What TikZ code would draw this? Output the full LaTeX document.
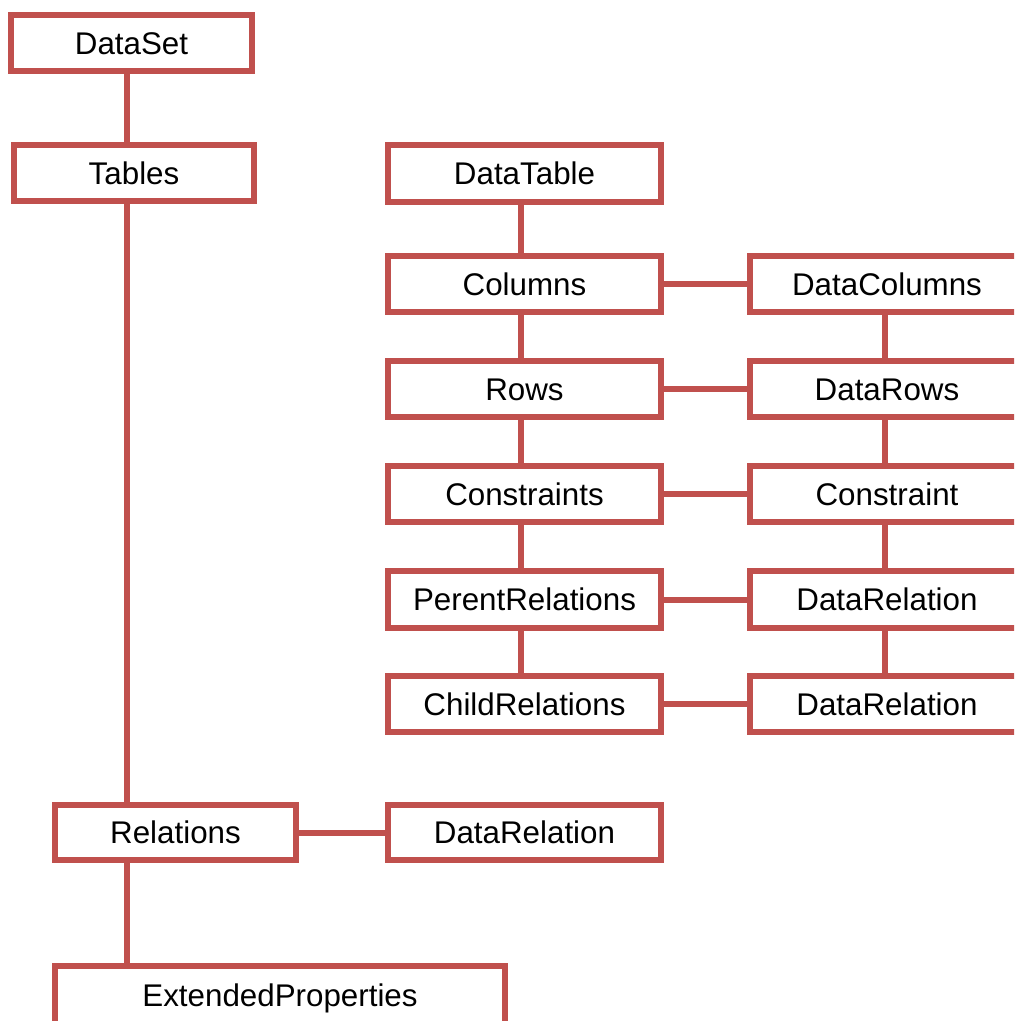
\documentclass[tikz,border=0pt]{standalone}
\usepackage{fontspec}
\setmainfont{Liberation Sans}
\definecolor{boxred}{HTML}{C0504D}
\tikzset{
  rbox/.style={draw=boxred, line width=4.5pt, fill=white, outer sep=0pt,
    inner sep=0pt, font=\fontsize{23.5pt}{28pt}\selectfont,
    text height=16.9pt, text depth=0pt},
  link/.style={draw=boxred, line width=4.5pt}
}
% box from stroke-centre corners (x1,y1)-(x2,y2)
\newcommand\boxat[6]{%
  \node[rbox, minimum width={(#4-#2)*0.75pt}, minimum height={(#5-#3)*0.75pt}]
    (#1) at ({(#2+#4)/2},{(#3+#5)/2}) {#6};}
\begin{document}
\begin{tikzpicture}[x=0.75pt, y=-0.75pt]
\useasboundingbox (0,0) rectangle (1014,1021);
\clip (0,0) rectangle (1014,1021);

\coordinate (lspine) at (127,0);
\coordinate (mspine) at (521,0);
\coordinate (rspine) at (885,0);

% left column
\boxat{ds}{11}{15}{252}{71}{DataSet}
\boxat{tb}{14}{145}{254}{201}{Tables}
\boxat{rel}{55}{805}{296}{860}{Relations}
\boxat{drb}{388}{805}{661}{860}{DataRelation}
\boxat{ext}{55}{966}{505}{1024}{ExtendedProperties}

% middle column
\boxat{dt}{388}{145}{661}{202}{DataTable}
\boxat{col}{388}{256}{661}{312}{Columns}
\boxat{row}{388}{361}{661}{417}{Rows}
\boxat{con}{388}{466}{661}{522}{Constraints}
\boxat{par}{388}{571}{661}{628}{PerentRelations}
\boxat{chi}{388}{676}{661}{732}{ChildRelations}

% right column
\boxat{dcol}{750}{256}{1024}{312}{DataColumns}
\boxat{drow}{750}{361}{1024}{417}{DataRows}
\boxat{dcon}{750}{466}{1024}{522}{Constraint}
\boxat{drel}{750}{571}{1024}{628}{DataRelation}
\boxat{drel2}{750}{676}{1024}{732}{DataRelation}

% vertical links
\draw[link] (ds.south -| lspine) -- (tb.north -| lspine);
\draw[link] (tb.south -| lspine) -- (rel.north -| lspine);
\draw[link] (rel.south -| lspine) -- (ext.north -| lspine);
\draw[link] (dt.south -| mspine) -- (col.north -| mspine);
\draw[link] (col.south -| mspine) -- (row.north -| mspine);
\draw[link] (row.south -| mspine) -- (con.north -| mspine);
\draw[link] (con.south -| mspine) -- (par.north -| mspine);
\draw[link] (par.south -| mspine) -- (chi.north -| mspine);
\draw[link] (dcol.south -| rspine) -- (drow.north -| rspine);
\draw[link] (drow.south -| rspine) -- (dcon.north -| rspine);
\draw[link] (dcon.south -| rspine) -- (drel.north -| rspine);
\draw[link] (drel.south -| rspine) -- (drel2.north -| rspine);

% horizontal links
\draw[link] (col.east) -- (dcol.west);
\draw[link] (row.east) -- (drow.west);
\draw[link] (con.east) -- (dcon.west);
\draw[link] (par.east) -- (drel.west);
\draw[link] (chi.east) -- (drel2.west);
\draw[link] (rel.east) -- (drb.west);
\end{tikzpicture}
\end{document}
